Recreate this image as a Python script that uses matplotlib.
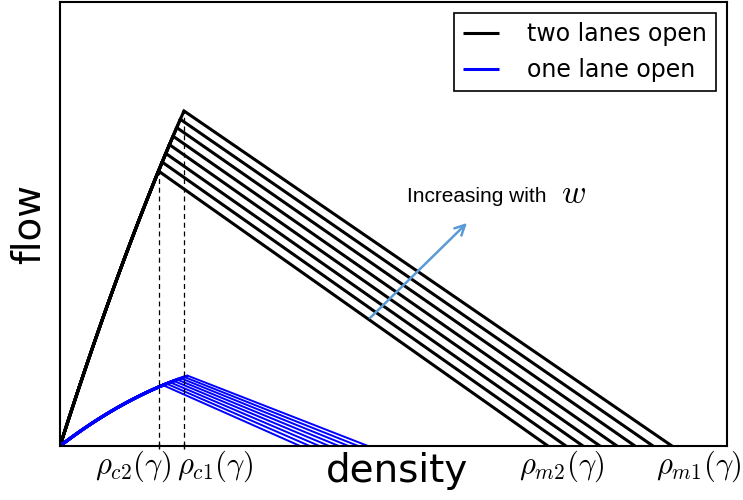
import numpy as np
import matplotlib
matplotlib.use("Agg")
import matplotlib.pyplot as plt

plt.rcParams["mathtext.fontset"] = "cm"

# Critical densities (dashed guides)
rho_c2 = 0.1477
rho_c1 = 0.1859

# Two lanes open: peak (critical) density of each diagram and jam densities
two_lane_peaks = [0.1477, 0.1532, 0.1586, 0.1641, 0.1695, 0.1750, 0.1804, 0.1859]
two_lane_jams = [0.7316, 0.7586, 0.7841, 0.8096, 0.8351, 0.8621, 0.8891, 0.9175]
two_lane_vf, two_lane_curv = 4.71, 3.5

# One lane open
one_lane_peaks = [0.1544, 0.1598, 0.1651, 0.1705, 0.1758, 0.1812, 0.1865, 0.1919]
one_lane_jams = [0.3600, 0.3745, 0.3890, 0.4036, 0.4181, 0.4327, 0.4472, 0.4618]
one_lane_vf, one_lane_curv = 1.15, 1.7

tick_labels = [r"$\rho_{c2}(\gamma)$", r"$\rho_{c1}(\gamma)$",
               r"$\rho_{m2}(\gamma)$", r"$\rho_{m1}(\gamma)$"]
tick_label_x = [0.1094, 0.2324, 0.7526, 0.9580]


def free_flow(rho, vf, curv):
    return vf * rho - curv * rho ** 2


fig = plt.figure(figsize=(7.43, 5.0), dpi=100)
ax = fig.add_axes([60 / 743, 54 / 500, 667 / 743, 444 / 500])


def draw_family(peaks, jams, vf, curv, color, lw_free, lw_cong, label):
    for i, (pc, pm) in enumerate(zip(peaks, jams)):
        r = np.linspace(0, pc, 60)
        q = free_flow(r, vf, curv)
        qc = free_flow(pc, vf, curv)
        ax.plot(r, q, color=color, lw=lw_free, solid_capstyle="butt",
                label=label if i == 0 else None)
        ax.plot([pc, pm], [qc, 0], color=color, lw=lw_cong)


draw_family(two_lane_peaks, two_lane_jams, two_lane_vf, two_lane_curv,
            "black", 2.2, 2.2, "two lanes open")
draw_family(one_lane_peaks, one_lane_jams, one_lane_vf, one_lane_curv,
            "blue", 2.2, 1.4, "one lane open")

# Dashed guides at the critical densities
for rc in (rho_c2, rho_c1):
    ax.plot([rc, rc], [0, free_flow(rc, two_lane_vf, two_lane_curv)],
            color="black", lw=0.9, ls=(0, (4, 3)))

ax.set_xlim(0, 1)
ax.set_ylim(0, 1)
ax.set_xticks([rho_c2, rho_c1])
ax.set_xticklabels([])
ax.tick_params(axis="x", direction="inout", length=5, width=1)
ax.set_yticks([])
for s in ax.spines.values():
    s.set_linewidth(1.5)

for lab, x in zip(tick_labels, tick_label_x):
    ax.text(x, -0.045, lab, transform=ax.get_xaxis_transform(),
            ha="center", va="center", fontsize=22)

ax.text(0.505, -0.081, "density", transform=ax.transAxes,
        ha="center", va="baseline", fontsize=28)
fig.text(29 / 743, 0.5 + (250 - 224) / 500, "flow", rotation=90,
         ha="center", va="center", fontsize=28)

ax.annotate("", xy=(0.6102, 0.5023), xytext=(0.4648, 0.2883),
            arrowprops=dict(arrowstyle="->", color="#5b9bd5", lw=1.8,
                            mutation_scale=18, shrinkA=0, shrinkB=0))
ax.text(0.5202, 0.5495, "Increasing with", fontsize=15,
        family="Liberation Sans", ha="left", va="baseline")
ax.text(0.7706, 0.547, r"$w$", fontsize=24, ha="center", va="baseline")

leg = ax.legend(loc="upper right", fontsize=17, handlelength=1.5,
                handletextpad=1.2, borderpad=0.4, labelspacing=0.5,
                fancybox=False, edgecolor="black", framealpha=1,
                borderaxespad=0.45)
leg.get_frame().set_linewidth(1.2)

fig.savefig("out.png", dpi=100)
